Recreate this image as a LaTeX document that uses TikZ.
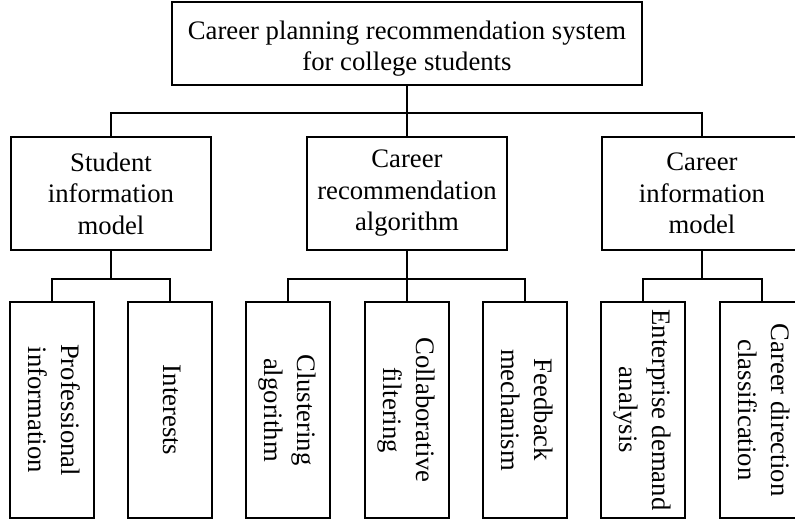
\documentclass[tikz,border=0pt]{standalone}
\usepackage{fontspec}
\setmainfont{Liberation Serif}
\usepackage{graphicx}
\usepackage{tikz}
\newcommand{\vtext}[1]{\rotatebox{-90}{\fontsize{26.7}{33}\selectfont\begin{tabular}{@{}c@{}}#1\end{tabular}}}
\begin{document}
\begin{tikzpicture}[x=1pt, y=-1pt, line width=1.5pt,
                        box/.style={draw, align=center, inner sep=0pt,
                          font=\fontsize{26.7}{31.5}\selectfont},
                        topbox/.style={box, minimum width=470pt, minimum height=83pt},
                        midbox/.style={box, minimum width=200pt, minimum height=113pt},
                        leafbox/.style={box, minimum width=84pt, minimum height=216pt}]
      \useasboundingbox (0,0) rectangle (795,520);
      \clip (0,0) rectangle (795,520);

      \node[topbox] (sys) at (407,43.5) {\rule{0pt}{29pt}Career planning recommendation system\\for college students};

      \node[midbox] (stud) at (111,193.5) {Student\\information\\model};
      \node[midbox] (alg) at (407,193.5) {Career\\recommendation\\algorithm};
      \node[midbox] (cinf) at (702,193.5) {Career\\information\\model};

      \node[leafbox] (prof) at (52,410) {\vtext{Professional\\information}};
      \node[leafbox] (intr) at (170,410) {\vtext{Interests}};
      \node[leafbox] (clus) at (288,410) {\vtext{Clustering\\algorithm}};
      \node[leafbox] (coll) at (407,410) {\vtext{Collaborative\\filtering}};
      \node[leafbox] (feed) at (525,410) {\vtext{Feedback\\mechanism}};
      \node[leafbox] (entr) at (643,410) {\vtext{Enterprise demand\\analysis}};
      \node[leafbox] (cdir) at (762,410) {\vtext{Career direction\\classification}};

      \coordinate (bus0) at (407,113);
      \coordinate (bus1) at (111,279);
      \coordinate (bus2) at (407,279);
      \coordinate (bus3) at (702,279);

      \draw (sys.south) -- (alg.north);
      \draw (stud.north) |- (bus0) -| (cinf.north);

      \draw (stud.south) -- (bus1);
      \draw (prof.north) |- (bus1) -| (intr.north);

      \draw (alg.south) -- (coll.north);
      \draw (clus.north) |- (bus2) -| (feed.north);

      \draw (cinf.south) -- (bus3);
      \draw (entr.north) |- (bus3) -| (cdir.north);
    \end{tikzpicture}
\end{document}
